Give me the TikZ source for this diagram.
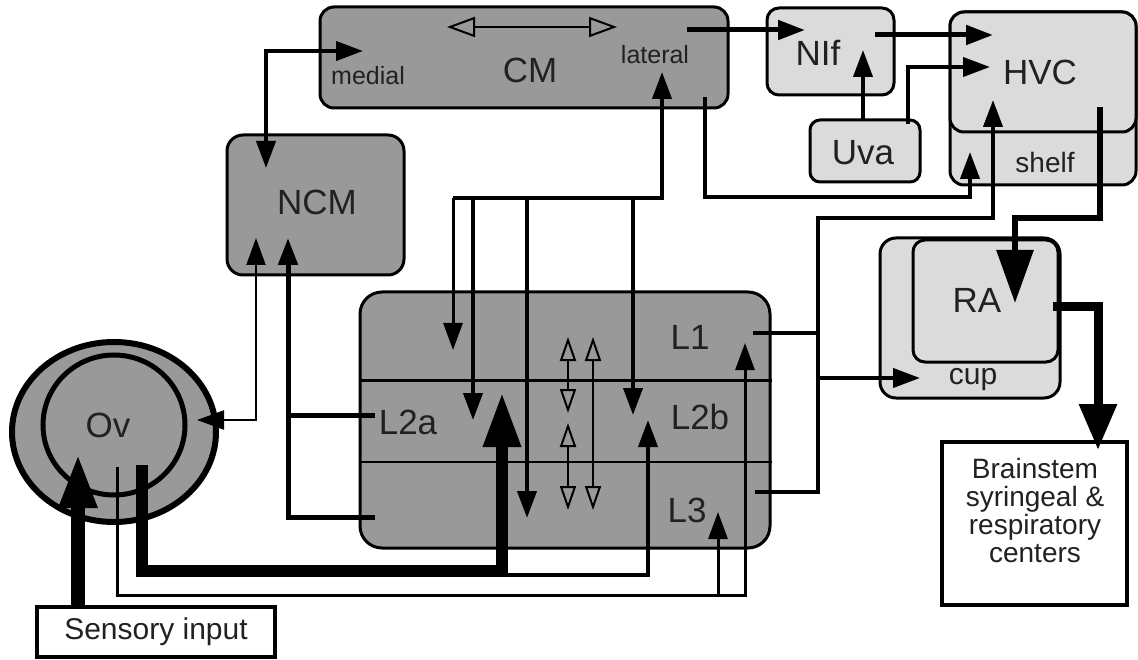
\documentclass[tikz,border=0pt]{standalone}
\usepackage{fontspec}
\setmainfont{Liberation Sans}
\usetikzlibrary{arrows.meta,shapes.geometric}
\definecolor{areagray}{gray}{0.6}
\definecolor{nucgray}{gray}{0.86}
\definecolor{inkgray}{gray}{0.13}
\tikzset{
  area/.style={draw, line width=3pt, fill=areagray, rounded corners=#1, inner sep=0pt},
  area/.default=14pt,
  nucleus/.style={draw, line width=3pt, fill=nucgray, rounded corners=#1, inner sep=0pt},
  nucleus/.default=12pt,
  plainbox/.style={draw, line width=4pt, fill=white, inner sep=0pt},
  arealabel/.style={font=\fontsize{35}{35}\selectfont, text=inkgray, inner sep=0pt},
  sublabel/.style={font=\fontsize{25}{25}\selectfont, text=inkgray, inner sep=0pt},
  stdtip/.tip={Triangle[length=27pt,width=19pt]},
  opentip/.tip={Triangle[open,length=24pt,width=16pt]},
  opentipwide/.tip={Triangle[open,length=28pt,width=20pt]},
  bigtip/.tip={Triangle[length=53pt,width=36pt]},
  hugetip/.tip={Triangle[length=55pt,width=35pt]}
}
\begin{document}
\begin{tikzpicture}[x=1pt, y=-1pt]
\path[use as bounding box, fill=white] (0,0) rectangle (1138,660);

% regions
\node[area, minimum width=408pt, minimum height=101pt] (CM) at (524,57.5) {};
\node[area=16pt, minimum width=177pt, minimum height=140pt] (NCM) at (315.5,205) {};
\node[area=22pt, minimum width=410pt, minimum height=256pt] (L) at (565,420) {};
\node[nucleus, minimum width=127pt, minimum height=87pt] (NIf) at (830.5,51.5) {};
\node[nucleus=10pt, minimum width=110pt, minimum height=62pt] (Uva) at (865,151) {};
\node[nucleus=14pt, minimum width=186pt, minimum height=173pt] (shelf) at (1043,98.5) {};
\node[nucleus=14pt, minimum width=186pt, minimum height=120pt] (HVC) at (1043,72) {};
\node[nucleus=16pt, minimum width=180pt, minimum height=160pt] (cup) at (970,318) {};
\node[nucleus, minimum width=145pt, minimum height=122pt] (RA) at (985.5,301) {};
\node[plainbox, minimum width=185pt, minimum height=163pt] (BS) at (1034.5,523.5) {};
\node[plainbox, minimum width=238pt, minimum height=50pt] (SI) at (156,632) {};
\node[draw, ellipse, line width=6pt, fill=areagray, minimum width=204pt, minimum height=180pt] (OvOut) at (114,432) {};
\node[draw, ellipse, line width=5pt, fill=areagray, minimum width=142pt, minimum height=140pt] (OvIn) at (114,425) {};

% layers of field L
\coordinate (rowA) at (0,380);
\coordinate (rowB) at (0,462);
\draw[line width=3pt] (L.west |- rowA) -- (L.east |- rowA);
\draw[line width=2pt] (L.west |- rowB) -- (L.east |- rowB);

% connector ends
\coordinate (medialIn) at (363,51);
\coordinate (ncmTop) at (266,168);
\coordinate (cmMed) at (447,27);
\coordinate (cmLat) at (617,27);
\coordinate (latOut) at (687,30);
\coordinate (nifW) at (805,30);
\coordinate (nifOut) at (875,35);
\coordinate (hvcW1) at (993,35);
\coordinate (uvaTop) at (863,120);
\coordinate (nifS) at (863,50);
\coordinate (uvaOut) at (908,124);
\coordinate (hvcW2) at (990,67);
\coordinate (cmOut) at (705,97);
\coordinate (shelfIn) at (970,152);
\coordinate (barL) at (453,198);
\coordinate (latIn) at (662,72);
\coordinate (l1In) at (453,350);
\coordinate (l2aIn) at (473,420);
\coordinate (l3In) at (527,518);
\coordinate (l2bIn) at (633,415);
\coordinate (l1Out) at (753,333);
\coordinate (l3Out) at (755,492);
\coordinate (trunk) at (818,218);
\coordinate (hvcS) at (993,100);
\coordinate (cupIn) at (920,378);
\coordinate (hvcOut) at (1100,107);
\coordinate (raN) at (1015,303);
\coordinate (raOut) at (1053,307);
\coordinate (bsN) at (1098,450);
\coordinate (ovE) at (197,420);
\coordinate (ncmS1) at (256,238);
\coordinate (ncmS2) at (288,238);
\coordinate (l2aOut) at (375,415);
\coordinate (l3W) at (375,517);
\coordinate (siN) at (78,607);
\coordinate (ovS) at (78,453);
\coordinate (ovOut1) at (142,465);
\coordinate (l2aBig) at (502,392);
\coordinate (medRow) at (0,575);
\coordinate (l2bUp) at (648,420);
\coordinate (ovOut2) at (117,467);
\coordinate (thinRow) at (0,595);
\coordinate (l1Up) at (745,343);
\coordinate (l3Up) at (718,512);

% CM and NCM
\draw[line width=4pt, {stdtip}-{stdtip}] (ncmTop) |- (medialIn);
\draw[line width=2pt, {opentipwide}-{opentipwide}] (cmMed) -- (cmLat);
% song system
\draw[line width=5pt, -{stdtip}] (latOut) -- (nifW);
\draw[line width=5pt, -{stdtip}] (nifOut) -- (hvcW1);
\draw[line width=4pt, -{stdtip}] (uvaTop) -- (nifS);
\draw[line width=4pt, -{stdtip}] (uvaOut) |- (hvcW2);
\draw[line width=4pt, -{stdtip}] (cmOut) -- ++(0,100) -| (shelfIn);
% field L and CM lateral
\draw[line width=4pt, -{stdtip}] (barL) -| (latIn);
\draw[line width=3pt, -{stdtip}] (barL) -- (l1In);
\foreach \c in {l2aIn, l3In, l2bIn}
  \draw[line width=4pt, -{stdtip}] (\c |- barL) -- (\c);
\draw[line width=2pt, {opentip}-{opentip}] (568,337) -- (568,413);
\draw[line width=2pt, {opentip}-{opentip}] (568,423) -- (568,510);
\draw[line width=2pt, {opentip}-{opentip}] (593,337) -- (593,510);
% L1 and L3 to HVC shelf and RA cup
\draw[line width=4pt] (l1Out) -- (l1Out -| trunk);
\draw[line width=4pt, -{stdtip}] (l3Out) -| (trunk) -| (hvcS);
\draw[line width=4pt, -{stdtip}] (cupIn -| trunk) -- (cupIn);
% motor pathway
\draw[line width=6pt, -{bigtip}] (hvcOut) -- ++(0,111) -| (raN);
\draw[line width=9pt, -{Triangle[length=46pt,width=36pt]}] (raOut) -| (bsN);
% NCM inputs
\draw[line width=2pt, {stdtip}-{stdtip}] (ovE) -| (ncmS1);
\draw[line width=5pt] (l2aOut) -- (l2aOut -| ncmS2);
\draw[line width=5pt, -{stdtip}] (l3W) -| (ncmS2);
% ascending auditory input
\draw[line width=14pt, -{hugetip}] (siN) -- (ovS);
\draw[line width=12pt, -{hugetip}] (ovOut1) -- ++(0,106) -| (l2aBig);
\draw[line width=4pt, -{stdtip}] (l2aBig |- medRow) -| (l2bUp);
\draw[line width=3pt, -{stdtip}] (ovOut2) -- ++(0,128) -| (l1Up);
\draw[line width=3pt, -{stdtip}] (l3Up |- thinRow) -- (l3Up);

% labels
\node[arealabel] (CMtext) at (530,70) {CM};
\node[sublabel] (medial) at (368,76) {medial};
\node[sublabel] (lateral) at (655,55) {lateral};
\node[arealabel] (NCMtext) at (317,202) {NCM};
\node[arealabel] (L1text) at (690,337) {L1};
\node[arealabel] (L2atext) at (408,422) {L2a};
\node[arealabel] (L2btext) at (700,417) {L2b};
\node[arealabel] (L3text) at (687,510) {L3};
\node[arealabel] (NIftext) at (818,53) {NIf};
\node[arealabel] (Uvatext) at (863,153) {Uva};
\node[arealabel] (HVCtext) at (1040,72) {HVC};
\node[sublabel, font=\fontsize{28}{28}\selectfont] (shelftext) at (1045,162) {shelf};
\node[arealabel] (RAtext) at (977,300) {RA};
\node[sublabel, font=\fontsize{30}{30}\selectfont] (cuptext) at (973,380) {cup};
\node[arealabel] (Ovtext) at (108,425) {Ov};
\node[sublabel, font=\fontsize{30}{30}\selectfont] (SItext) at (SI) {Sensory input};
\node[sublabel, font=\fontsize{28}{28}\selectfont, align=center] (BStext) at (1035,510) {Brainstem\\syringeal \&\\respiratory\\centers};
\end{tikzpicture}
\end{document}
